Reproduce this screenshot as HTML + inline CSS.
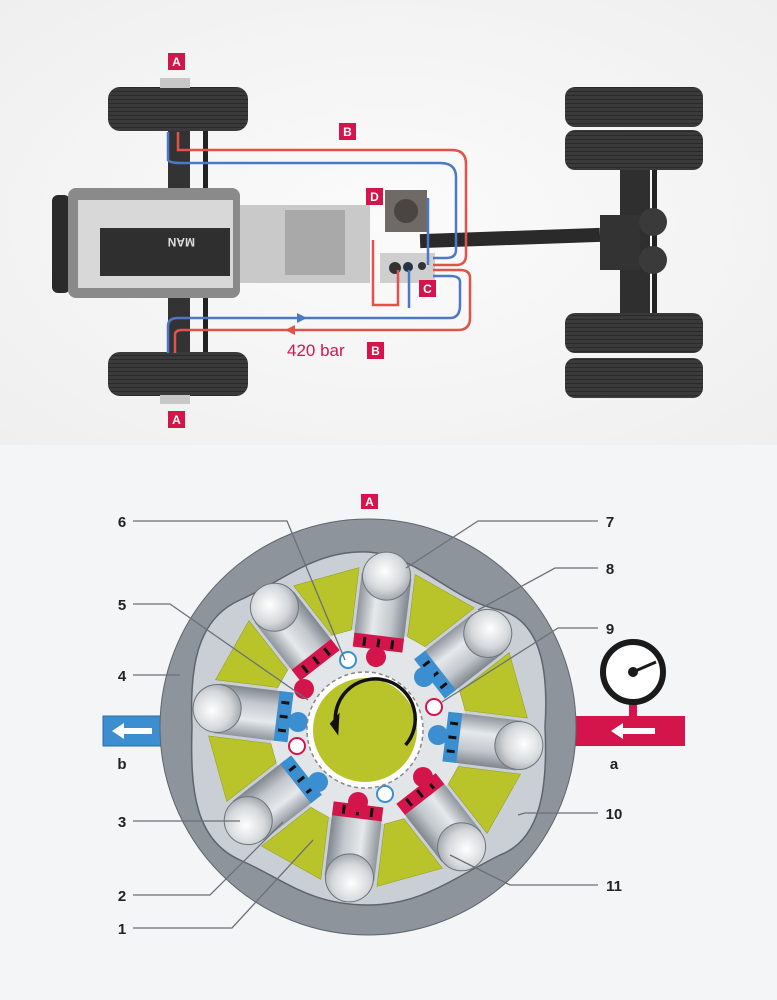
<!DOCTYPE html>
<html><head><meta charset="utf-8"><style>
html,body{margin:0;padding:0;background:#f3f5f6;}
svg{display:block;}
text{font-family:"Liberation Sans",sans-serif;}
</style></head><body>
<svg width="777" height="1000" viewBox="0 0 777 1000" xmlns="http://www.w3.org/2000/svg">
<defs>
<linearGradient id="cyl" x1="0" x2="1" y1="0" y2="0">
<stop offset="0" stop-color="#8e959c"/><stop offset="0.35" stop-color="#e6e9ec"/><stop offset="0.7" stop-color="#c3c8cd"/><stop offset="1" stop-color="#7f868d"/>
</linearGradient>
<radialGradient id="ball" cx="0.45" cy="0.4" r="0.65">
<stop offset="0" stop-color="#ffffff"/><stop offset="0.6" stop-color="#d5d8db"/><stop offset="1" stop-color="#9aa0a6"/>
</radialGradient>
<radialGradient id="bg" cx="0.5" cy="0.5" r="0.7">
<stop offset="0" stop-color="#fbfbfb"/><stop offset="1" stop-color="#efefef"/>
</radialGradient>
<pattern id="tread" width="4" height="4" patternUnits="userSpaceOnUse"><rect width="4" height="4" fill="#3a3a3a"/><rect y="3" width="4" height="1" fill="#2a2a2a"/></pattern>
<g id="piston">
<rect x="-25" y="-152" width="50" height="66" fill="url(#cyl)"/>
<circle cx="0" cy="-152" r="24" fill="url(#ball)" stroke="#6d747b" stroke-width="1"/>
</g>
<g id="wedge"><polygon points="-10,-98 10,-98 34,-156 -34,-156" fill="#b8c42a" stroke="#8f9a1a" stroke-width="0.5"/></g>
</defs>
<rect width="777" height="1000" fill="#f3f5f6"/>
<rect width="777" height="445" fill="url(#bg)"/>

<rect x="203" y="130" width="5" height="225" fill="#222"/>
<rect x="168" y="128" width="22" height="60" fill="#333"/>
<rect x="168" y="298" width="22" height="56" fill="#333"/>
<rect x="108" y="87" width="140" height="44" rx="12" fill="url(#tread)"/>
<rect x="108" y="352" width="140" height="44" rx="12" fill="url(#tread)"/>
<rect x="160" y="78" width="30" height="10" fill="#c8c8c8"/>
<rect x="160" y="395" width="30" height="9" fill="#c8c8c8"/>
<rect x="52" y="195" width="18" height="98" rx="6" fill="#2a2a2a"/>
<rect x="68" y="188" width="172" height="110" rx="8" fill="#8a8a8a"/>
<rect x="78" y="200" width="155" height="88" fill="#d8d8d8"/>
<rect x="100" y="228" width="130" height="48" fill="#2f2f2f"/>
<text x="195" y="246" font-size="12" font-weight="bold" fill="#ddd" transform="rotate(180 195 242)">MAN</text>
<rect x="240" y="205" width="130" height="78" fill="#c9c9c9"/>
<rect x="285" y="210" width="60" height="65" fill="#a9a9a9"/>
<rect x="420" y="231" width="180" height="14" fill="#2a2a2a" transform="rotate(-2 510 238)"/>
<rect x="385" y="190" width="42" height="42" fill="#6f6a66"/>
<circle cx="406" cy="211" r="12" fill="#4a4543"/>
<rect x="380" y="253" width="55" height="30" fill="#cfcfcf"/>
<circle cx="395" cy="268" r="6" fill="#333"/><circle cx="408" cy="267" r="5" fill="#234"/><circle cx="422" cy="266" r="4" fill="#333"/>
<rect x="620" y="170" width="30" height="145" fill="#2f2f2f"/>
<rect x="652" y="170" width="5" height="145" fill="#222"/>
<rect x="600" y="215" width="40" height="55" fill="#333"/>
<circle cx="653" cy="222" r="14" fill="#3a3a3a"/><circle cx="653" cy="260" r="14" fill="#3a3a3a"/>
<rect x="565" y="87" width="138" height="40" rx="10" fill="url(#tread)"/>
<rect x="565" y="130" width="138" height="40" rx="10" fill="url(#tread)"/>
<rect x="565" y="313" width="138" height="40" rx="10" fill="url(#tread)"/>
<rect x="565" y="358" width="138" height="40" rx="10" fill="url(#tread)"/>
<g fill="none" stroke-width="2.5">
<path d="M178 132 V150 H452 Q466 150 466 164 V255 Q466 265 456 265 H433" stroke="#e0524a"/>
<path d="M168 132 V160 Q170 163 180 163 H440 Q456 163 456 177 V250 Q456 258 446 258 H433" stroke="#4d78c8"/>
<path d="M175 353 V335 Q175 330 182 330 H458 Q470 330 470 318 V278 Q470 270 460 270 H433" stroke="#e0524a"/>
<path d="M168 353 V326 Q168 318 178 318 H450 Q460 318 460 305 V282 Q460 276 450 276 H433" stroke="#4d78c8"/>
<path d="M373 240 V305 H398 V270" stroke="#e0524a"/>
<path d="M428 198 V265" stroke="#4d78c8"/>
<path d="M409 270 V308" stroke="#4d78c8"/>
</g>
<polygon points="285,330 295,325 295,335" fill="#e0524a"/>
<polygon points="307,318 297,313 297,323" fill="#4d78c8"/>
<g font-size="12" font-weight="bold" fill="#fff" text-anchor="middle">
<rect x="168" y="53" width="17" height="17" fill="#d4154b"/><text x="176.5" y="66">A</text>
<rect x="339" y="123" width="17" height="17" fill="#d4154b"/><text x="347.5" y="136">B</text>
<rect x="366" y="188" width="17" height="17" fill="#d4154b"/><text x="374.5" y="201">D</text>
<rect x="419" y="280" width="17" height="17" fill="#d4154b"/><text x="427.5" y="293">C</text>
<rect x="367" y="342" width="17" height="17" fill="#d4154b"/><text x="375.5" y="355">B</text>
<rect x="168" y="411" width="17" height="17" fill="#d4154b"/><text x="176.5" y="424">A</text>
<rect x="361" y="494" width="17" height="15" fill="#d4154b"/><text x="369.5" y="506">A</text>
</g>
<text x="287" y="356" font-size="17" fill="#d4154b">420 bar</text>

<rect x="103" y="716" width="58" height="30" fill="#3b8ed0" stroke="#2a6ea8"/>
<polygon points="112,731 124,723 124,728 152,728 152,734 124,734 124,739" fill="#fff"/>
<rect x="570" y="716" width="115" height="30" fill="#d4154b"/>
<polygon points="611,731 623,723 623,728 655,728 655,734 623,734 623,739" fill="#fff"/>
<rect x="629" y="700" width="8" height="18" fill="#d4154b"/>
<circle cx="633" cy="672" r="30" fill="#fff" stroke="#1a1a1a" stroke-width="6"/>
<line x1="633" y1="672" x2="656" y2="662" stroke="#1a1a1a" stroke-width="3"/>
<circle cx="633" cy="672" r="5" fill="#1a1a1a"/>

<circle cx="368" cy="727" r="208" fill="#8d949b" stroke="#5e656c" stroke-width="1"/>
<path d="M368,552 C420,556 450,600 500,610 C545,622 548,680 545,727 C548,790 540,840 500,855 C450,880 420,905 368,905 C310,905 285,880 240,860 C195,840 190,790 192,727 C190,670 195,620 240,600 C285,580 315,550 368,552 Z" fill="#c9cfd4" stroke="#5e656c" stroke-width="1.5"/>
<circle cx="368" cy="727" r="98" fill="#e3e6e9"/>
<g transform="translate(368 727)">
<use href="#wedge" transform="rotate(29.5)"/><use href="#wedge" transform="rotate(74.5)"/><use href="#wedge" transform="rotate(119.5)"/><use href="#wedge" transform="rotate(164.5)"/><use href="#wedge" transform="rotate(209.5)"/><use href="#wedge" transform="rotate(254.5)"/><use href="#wedge" transform="rotate(299.5)"/><use href="#wedge" transform="rotate(344.5)"/>
<circle r="97" fill="#e3e6e9"/>
<g transform="rotate(7)"><use href="#piston"/><rect x="-25" y="-92" width="50" height="14" fill="#d4154b"/><path d="M-14,-80 l0,-9 M0,-80 l0,-9 M14,-80 l0,-9" stroke="#111" stroke-width="3"/></g>
<g transform="rotate(52)"><use href="#piston"/><rect x="-25" y="-92" width="50" height="14" fill="#3b8ed0"/><path d="M-14,-89 l0,8 M0,-89 l0,8 M14,-89 l0,8" stroke="#111" stroke-width="3"/></g>
<g transform="rotate(97)"><use href="#piston"/><rect x="-25" y="-92" width="50" height="14" fill="#3b8ed0"/><path d="M-14,-89 l0,8 M0,-89 l0,8 M14,-89 l0,8" stroke="#111" stroke-width="3"/></g>
<g transform="rotate(142)"><use href="#piston"/><rect x="-25" y="-92" width="50" height="14" fill="#d4154b"/><path d="M-14,-80 l0,-9 M0,-80 l0,-9 M14,-80 l0,-9" stroke="#111" stroke-width="3"/></g>
<g transform="rotate(187)"><use href="#piston"/><rect x="-25" y="-92" width="50" height="14" fill="#d4154b"/><path d="M-14,-80 l0,-9 M0,-80 l0,-9 M14,-80 l0,-9" stroke="#111" stroke-width="3"/></g>
<g transform="rotate(232)"><use href="#piston"/><rect x="-25" y="-92" width="50" height="14" fill="#3b8ed0"/><path d="M-14,-89 l0,8 M0,-89 l0,8 M14,-89 l0,8" stroke="#111" stroke-width="3"/></g>
<g transform="rotate(277)"><use href="#piston"/><rect x="-25" y="-92" width="50" height="14" fill="#3b8ed0"/><path d="M-14,-89 l0,8 M0,-89 l0,8 M14,-89 l0,8" stroke="#111" stroke-width="3"/></g>
<g transform="rotate(322)"><use href="#piston"/><rect x="-25" y="-92" width="50" height="14" fill="#d4154b"/><path d="M-14,-80 l0,-9 M0,-80 l0,-9 M14,-80 l0,-9" stroke="#111" stroke-width="3"/></g>
<circle cx="8" cy="-70" r="10" fill="#d4154b"/><circle cx="-64" cy="-38" r="10" fill="#d4154b"/><circle cx="-10" cy="75" r="10" fill="#d4154b"/><circle cx="55" cy="50" r="10" fill="#d4154b"/>
<circle cx="56" cy="-50" r="10" fill="#3b8ed0"/><circle cx="70" cy="8" r="10" fill="#3b8ed0"/><circle cx="-70" cy="-5" r="10" fill="#3b8ed0"/><circle cx="-50" cy="55" r="10" fill="#3b8ed0"/>
</g>
<circle cx="348" cy="660" r="8" fill="#fff" stroke="#3b8ed0" stroke-width="2"/>
<circle cx="434" cy="707" r="8" fill="#fff" stroke="#d4154b" stroke-width="2"/>
<circle cx="297" cy="746" r="8" fill="#fff" stroke="#d4154b" stroke-width="2"/>
<circle cx="385" cy="794" r="8" fill="#fff" stroke="#3b8ed0" stroke-width="2"/>
<circle cx="365" cy="730" r="58" fill="#fff" stroke="#888" stroke-width="1.5" stroke-dasharray="4 3"/>
<circle cx="365" cy="730" r="52" fill="#b8c42a"/>
<path d="M398,758 A40,40 0 1 0 340,712" fill="none" stroke="#111" stroke-width="3.5" transform="rotate(-20 365 730)"/>
<polygon points="334,712 347,705 338,726" fill="#111" transform="rotate(-20 365 730)"/>
<g stroke="#6b7178" stroke-width="1.3" fill="none">
<path d="M133 521 H287 L345 660"/>
<path d="M133 604 H170 L308 700"/>
<path d="M133 675 H180"/>
<path d="M133 821 H240"/>
<path d="M133 895 H210 L283 822"/>
<path d="M133 928 H232 L313 840"/>
<path d="M598 521 H478 L406 568"/>
<path d="M598 568 H555 L478 610"/>
<path d="M598 628 H558 L442 702"/>
<path d="M598 813 H525 L518 815"/>
<path d="M598 885 H510 L450 855"/>
</g>
<g font-size="15" font-weight="bold" fill="#222" text-anchor="middle">
<text x="122" y="527">6</text><text x="122" y="610">5</text><text x="122" y="681">4</text>
<text x="122" y="769">b</text><text x="122" y="827">3</text><text x="122" y="901">2</text><text x="122" y="934">1</text>
<text x="610" y="527">7</text><text x="610" y="574">8</text><text x="610" y="634">9</text>
<text x="614" y="769">a</text><text x="614" y="819">10</text><text x="614" y="891">11</text>
</g>
</svg>
</body></html>
